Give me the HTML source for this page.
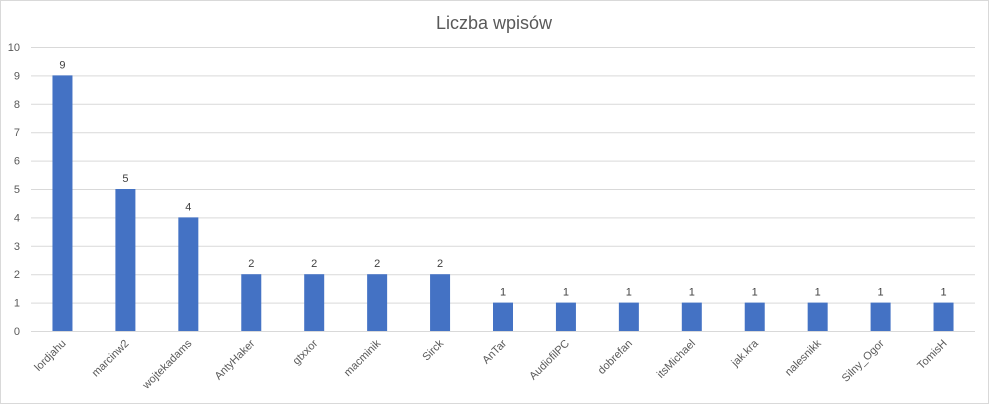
<!DOCTYPE html>
<html><head><meta charset="utf-8"><style>
body{margin:0;background:#fff}
svg{display:block;font-family:"Liberation Sans",sans-serif}
</style></head><body>
<svg id="chart" width="989" height="404" viewBox="0 0 989 404">
<rect x="0.5" y="0.5" width="988" height="403" fill="#fff" stroke="#d9d9d9"/>
<text x="494" y="29" text-anchor="middle" font-size="18" fill="#595959">Liczba wpisów</text>
<g id="grid"></g><g id="bars"></g><g id="labels"></g>
</svg>
<script>
const categories=["lordjahu","marcinw2","wojtekadams","AntyHaker","gtxxor","macminik","Sirck","AnTar","AudiofilPC","dobrefan","itsMichael","jak.kra","nalesnikk","Silny_Ogor","TomisH"];
const values=[9,5,4,2,2,2,2,1,1,1,1,1,1,1,1];
const yTicks=[0,1,2,3,4,5,6,7,8,9,10];
const NS="http://www.w3.org/2000/svg";
const x0=31,x1=975,y0=331,y1=47,yMax=10;
const bw=(x1-x0)/categories.length;
function yS(v){return y0-(v/yMax)*(y0-y1);}
function xC(i){return x0+bw*(i+0.5);}
function mk(t,a,p){const e=document.createElementNS(NS,t);for(const k in a)e.setAttribute(k,a[k]);p.appendChild(e);return e;}
const grid=document.getElementById('grid'),bars=document.getElementById('bars'),labels=document.getElementById('labels');
yTicks.forEach(v=>{
 const l=mk('line',{x1:x0,x2:x1,y1:yS(v)+0.5,y2:yS(v)+0.5,stroke:'#d9d9d9','stroke-width':1},grid);
 
 
 const t=mk('text',{x:20,y:yS(v)+4,'text-anchor':'end','font-size':11,fill:'#595959'},grid);
 t.textContent=v;
 
 
});
categories.forEach((c,i)=>{
 const cx=xC(i),v=values[i];
 const r=mk('rect',{x:cx-10,y:yS(v),width:20,height:y0-yS(v),fill:'#4472c4'},bars);
 
 
 const vt=mk('text',{x:cx,y:yS(v)-7,'text-anchor':'middle','font-size':11,fill:'#404040'},labels);
 vt.textContent=v;
 
 
 const xt=mk('text',{x:cx+4,y:344,'text-anchor':'end','font-size':11,fill:'#595959',transform:`rotate(-45 ${cx+4} 344)`},labels);
 xt.textContent=c;
 
 
});
</script>
</body></html>
